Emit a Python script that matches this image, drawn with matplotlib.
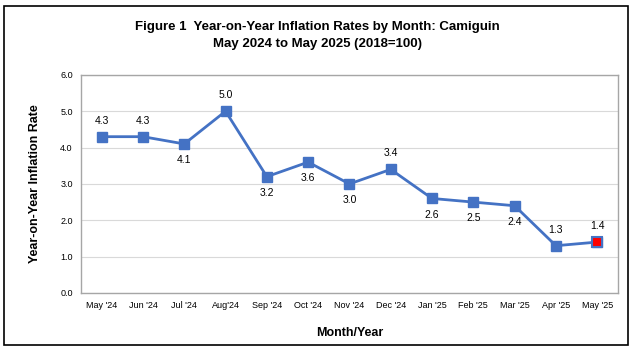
import matplotlib.pyplot as plt
from matplotlib.patches import Rectangle

plt.rcParams['font.family'] = ['Liberation Sans', 'DejaVu Sans']

months = ["May '24", "Jun '24", "Jul '24", "Aug'24", "Sep '24", "Oct '24", "Nov '24",
          "Dec '24", "Jan '25", "Feb '25", "Mar '25", "Apr '25", "May '25"]
rates = [4.3, 4.3, 4.1, 5.0, 3.2, 3.6, 3.0, 3.4, 2.6, 2.5, 2.4, 1.3, 1.4]
label_pos = ['above', 'above', 'below', 'above', 'below', 'below', 'below',
             'above', 'below', 'below', 'below', 'above', 'above']

blue = '#4472C4'

fig = plt.figure(figsize=(6.35, 3.5), dpi=100)
ax = fig.add_axes([0.1276, 0.163, 0.8454, 0.623])

x = list(range(len(months)))
ax.plot(x, rates, color=blue, lw=2, marker='s', ms=7, mfc=blue, mec=blue, zorder=3)
# latest month highlighted
ax.plot(x[-1], rates[-1], marker='s', ms=7, mfc='#FF0000', mec=blue, mew=1.5, zorder=4)

for xi, v, p in zip(x, rates, label_pos):
    if p == 'above':
        ax.annotate(f'{v:.1f}', (xi, v), xytext=(0, 8), textcoords='offset points',
                    ha='center', va='bottom', fontsize=7.5)
    else:
        ax.annotate(f'{v:.1f}', (xi, v), xytext=(0, -8), textcoords='offset points',
                    ha='center', va='top', fontsize=7.5)

ax.set_xlim(-0.5, len(months) - 0.5)
ax.set_ylim(0, 6)
ax.set_yticks([0, 1, 2, 3, 4, 5, 6])
ax.set_yticklabels([f'{t:.1f}' for t in range(7)], fontsize=6.5)
ax.set_xticks(x)
ax.set_xticklabels(months, fontsize=6.5)
ax.tick_params(length=0, pad=6)
ax.grid(axis='y', color='#D9D9D9', lw=0.8)
ax.set_axisbelow(True)
for s in ax.spines.values():
    s.set_color('#A6A6A6')
    s.set_linewidth(1)

ax.set_ylabel('Year-on-Year Inflation Rate', fontsize=9, fontweight='bold', labelpad=14)
ax.set_xlabel('Month/Year', fontsize=9, fontweight='bold', labelpad=12)

fig.text(0.5, 0.922, 'Figure 1  Year-on-Year Inflation Rates by Month: Camiguin',
         ha='center', va='center', fontsize=9.5, fontweight='bold')
fig.text(0.5, 0.873, 'May 2024 to May 2025 (2018=100)',
         ha='center', va='center', fontsize=9.5, fontweight='bold')

fig.patches.append(Rectangle((0.0063, 0.014), 0.983, 0.969, transform=fig.transFigure,
                             fill=False, edgecolor='black', lw=1.2))

fig.savefig('out.png', dpi=100)
